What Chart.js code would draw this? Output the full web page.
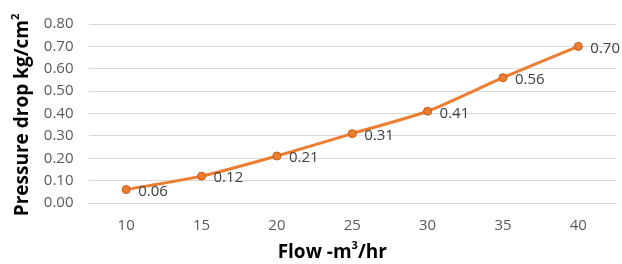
<!DOCTYPE html>
<html><head><meta charset="utf-8">
<script src="https://cdn.jsdelivr.net/npm/chart.js@4/dist/chart.umd.min.js"></script>
<style>html,body{margin:0;padding:0;background:#fff}#wrap{width:622px;height:264px}</style>
</head><body><div id="wrap"><canvas id="c" width="622" height="264"></canvas></div>
<script>
const categories = ["10","15","20","25","30","35","40"];
const pressureDrop = [0.06,0.12,0.21,0.31,0.41,0.56,0.70];
const yMin = 0, yMax = 0.8, yStep = 0.1;
const xTitleParts = ["Flow -m", "3", "/hr"];
const yTitleParts = ["Pressure drop kg/cm", "2", ""];

const FONT = "'Open Sans', sans-serif";

function drawSupTitle(ctx, parts, size) {
  const main = "bold " + size + "px " + FONT;
  const sup = "bold " + Math.round(size * 0.6) + "px " + FONT;
  ctx.font = main; const w0 = ctx.measureText(parts[0]).width;
  ctx.font = sup;  const w1 = ctx.measureText(parts[1]).width;
  ctx.font = main; const w2 = ctx.measureText(parts[2]).width;
  const total = w0 + w1 + w2;
  let x = -total / 2;
  ctx.textAlign = "left"; ctx.textBaseline = "alphabetic";
  ctx.font = main; ctx.fillText(parts[0], x, 0); x += w0;
  ctx.font = sup; ctx.fillText(parts[1], x, -size * 0.45); x += w1;
  ctx.font = main; ctx.fillText(parts[2], x, 0);
}

const labelPlugin = {
  id: 'pointLabels',
  afterDatasetsDraw(chart) {
    const ctx = chart.ctx;
    const meta = chart.getDatasetMeta(0);
    ctx.save();
    ctx.font = "15px " + FONT;
    ctx.fillStyle = "#404040";
    ctx.textAlign = "left";
    ctx.textBaseline = "middle";
    meta.data.forEach((pt, i) => {
      ctx.fillText(pressureDrop[i].toFixed(2), pt.x + 12, pt.y + 2);
    });
    ctx.restore();
  },
  afterDraw(chart) {
    const ctx = chart.ctx;
    const a = chart.chartArea;
    ctx.save();
    ctx.fillStyle = "#000";
    ctx.translate((a.left + a.right) / 2 - 20, 258);
    drawSupTitle(ctx, xTitleParts, 19);
    ctx.restore();
    ctx.save();
    ctx.fillStyle = "#000";
    ctx.translate(28, (a.top + a.bottom) / 2 + 1.5);
    ctx.rotate(-Math.PI / 2);
    drawSupTitle(ctx, yTitleParts, 19);
    ctx.restore();
  }
};

new Chart(document.getElementById('c'), {
  type: 'line',
  data: {
    labels: categories,
    datasets: [{
      data: pressureDrop,
      borderColor: '#ED7D31',
      backgroundColor: '#ED7D31',
      borderWidth: 3,
      pointRadius: 4,
      pointBorderWidth: 1,
      pointBorderColor: '#C55A11',
      pointBackgroundColor: '#ED7D31',
      tension: 0.2
    }]
  },
  options: {
    responsive: false,
    animation: false,
    devicePixelRatio: 1,
    layout: { padding: { left: 0, right: 6, top: 20, bottom: 0 } },
    plugins: { legend: { display: false }, tooltip: { enabled: false } },
    scales: {
      x: {
        offset: true,
        grid: { display: false, drawTicks: false },
        border: { display: true, color: '#D9D9D9', width: 1 },
        ticks: { color: '#595959', font: { family: FONT, size: 15 }, padding: 14, maxRotation: 0 },
        afterFit(s) { s.height = 61; }
      },
      y: {
        min: yMin, max: yMax,
        grid: { color: '#D9D9D9', drawTicks: false },
        border: { display: false },
        ticks: { stepSize: yStep, color: '#595959', font: { family: FONT, size: 15 }, padding: 15,
          callback: v => Number(v).toFixed(2) },
        afterFit(s) { s.width = 88.5; }
      }
    }
  },
  plugins: [labelPlugin]
});
</script></body></html>
